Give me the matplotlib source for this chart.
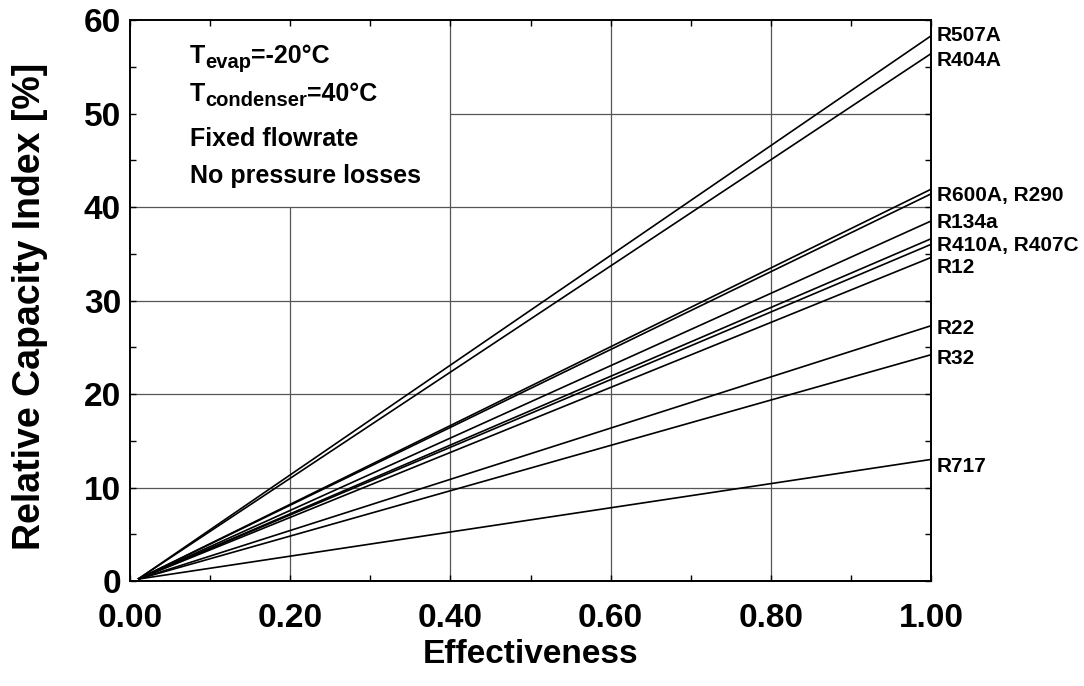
import matplotlib
matplotlib.use("Agg")
import matplotlib.pyplot as plt
from matplotlib.ticker import MultipleLocator, FormatStrFormatter

# ---- data -------------------------------------------------------------
refrigerants = ["R507A", "R404A", "R600A", "R290", "R134a",
                "R410A", "R407C", "R12", "R22", "R32", "R717"]
effectiveness = [0.01, 1.00]
capacity_start = 0.2          # common value at the lowest effectiveness
capacity_end = [58.3, 56.4, 41.9, 41.4, 38.5, 36.6, 36.0, 34.6, 27.3, 24.2, 13.0]

label_text = ["R507A", "R404A", "R600A, R290", "R134a", "R410A, R407C",
              "R12", "R22", "R32", "R717"]
label_members = [["R507A"], ["R404A"], ["R600A", "R290"], ["R134a"],
                 ["R410A", "R407C"], ["R12"], ["R22"], ["R32"], ["R717"]]
label_nudge_pt = [0, -5, -3, -1, -3, -7.5, -2, -3, -5]

x_ticks = [0.0, 0.2, 0.4, 0.6, 0.8, 1.0]
y_ticks = [0, 10, 20, 30, 40, 50, 60]

conditions = [("T", "evap", "=-20°C"),
              ("T", "condenser", "=40°C"),
              ("Fixed flowrate", None, None),
              ("No pressure losses", None, None)]

# ---- style -------------------------------------------------------------
plt.rcParams["font.family"] = ["Liberation Sans", "DejaVu Sans"]
plt.rcParams["font.weight"] = "bold"

W, H = 1084, 686
fig = plt.figure(figsize=(W / 100, H / 100), dpi=100)
ax = fig.add_axes([130 / W, 105 / H, 801 / W, 561 / H])
ax.set_xlim(0, 1)
ax.set_ylim(0, 60)

# grid, kept clear of the conditions panel in the upper-left corner
box_x = (0.0, 0.4)
box_y = (40.0, 60.0)
grid_kw = dict(color="#555555", lw=0.9, zorder=1)
for gx in x_ticks[1:-1]:
    top = box_y[0] if gx < box_x[1] else 60
    ax.vlines(gx, 0, top, **grid_kw)
for gy in y_ticks[1:-1]:
    left = box_x[1] if gy > box_y[0] else 0
    ax.hlines(gy, left, 1, **grid_kw)

# capacity lines
for name, end in zip(refrigerants, capacity_end):
    ax.plot(effectiveness, [capacity_start, end], color="black", lw=1.2,
            zorder=2, solid_capstyle="butt")

# labels at the right-hand ends
end_of = dict(zip(refrigerants, capacity_end))
for text, members, nudge in zip(label_text, label_members, label_nudge_pt):
    yv = sum(end_of[m] for m in members) / len(members)
    ax.annotate(text, xy=(1.0, yv), xycoords="data",
                xytext=(4.3, nudge), textcoords="offset points",
                ha="left", va="center", fontsize=15, fontweight="bold",
                annotation_clip=False)

# conditions panel
line_x = 0.075
line_y = [55.37, 51.37, 46.52, 42.6]
for (base, sub, rest), yy in zip(conditions, line_y):
    t = ax.text(line_x, yy, base, fontsize=18, fontweight="bold",
                va="baseline", ha="left", zorder=3)
    if sub:
        s = ax.annotate(sub, xy=(1, 0), xycoords=t, xytext=(0, -2.8),
                        textcoords="offset points", fontsize=14.5,
                        fontweight="bold", va="bottom", ha="left")
        ax.annotate(rest, xy=(1, 0), xycoords=(s, t), fontsize=18,
                    fontweight="bold", va="bottom", ha="left")

# axes, ticks
for sp in ax.spines.values():
    sp.set_linewidth(1.4)
ax.set_xticks(x_ticks)
ax.set_yticks(y_ticks)
ax.xaxis.set_minor_locator(MultipleLocator(0.1))
ax.yaxis.set_minor_locator(MultipleLocator(5))
ax.xaxis.set_major_formatter(FormatStrFormatter("%.2f"))
ax.yaxis.set_major_formatter(FormatStrFormatter("%d"))
ax.tick_params(which="both", direction="in", top=True, right=True,
               length=4, width=1.0, color="black")
ax.tick_params(axis="x", which="major", pad=16, labelsize=24)
ax.tick_params(axis="y", which="major", pad=6.5, labelsize=24)
for lab in ax.get_xticklabels() + ax.get_yticklabels():
    lab.set_fontweight("bold")

# axis titles
fig.text(530.5 / W, 23 / H, "Effectiveness", ha="center", va="baseline",
         fontsize=24, fontweight="bold")
fig.text(40 / W, 379.3 / H, "Relative Capacity Index [%]", rotation=90,
         rotation_mode="anchor", ha="center", va="baseline",
         fontsize=27, fontweight="bold")

fig.savefig("out.png", dpi=100, facecolor="white")
